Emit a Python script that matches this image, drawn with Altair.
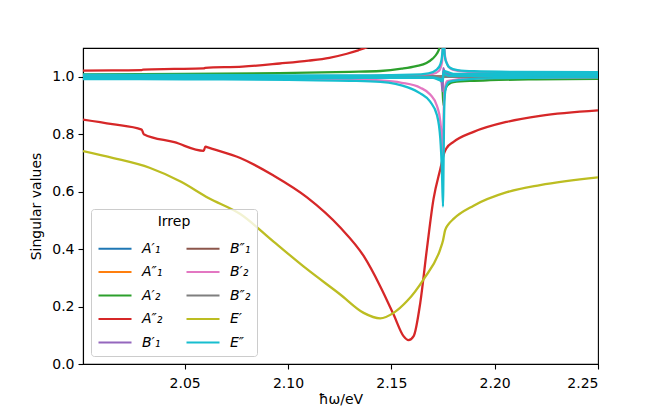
import altair as alt
import pandas as pd

irreps = ["A′₁", "A″₁", "A′₂", "A″₂", "B′₁", "B″₁", "B′₂", "B″₂", "E′", "E″"]
colors = ["#1f77b4", "#ff7f0e", "#2ca02c", "#d62728", "#9467bd",
          "#8c564b", "#e377c2", "#7f7f7f", "#bcbd22", "#17becf"]

x_ticks = [2.05, 2.10, 2.15, 2.20, 2.25]
y_ticks = [0.0, 0.2, 0.4, 0.6, 0.8, 1.0]

# channels that stay at ~1 (hidden under the E'' band)
x_flat = [2.0008, 2.10, 2.17, 2.175, 2.18, 2.25]
y_A1p = [1.000, 1.000, 1.000, 1.000, 1.000, 1.000]
y_A1pp = [1.000, 1.000, 1.000, 1.000, 1.000, 1.000]
y_B1pp = [1.000, 1.000, 1.000, 1.000, 1.000, 1.000]
y_B2pp = [1.000, 1.000, 1.000, 1.000, 1.000, 1.000]

# A'_2 (green)
x_g1 = [2.0008, 2.05, 2.096, 2.13, 2.1447, 2.155, 2.162, 2.167, 2.170, 2.172, 2.1733, 2.1742]
y_g1 = [1.008, 1.010, 1.0125, 1.017, 1.020, 1.028, 1.037, 1.048, 1.063, 1.080, 1.100, 1.130]
x_g2 = [2.0008, 2.10, 2.165, 2.172, 2.1746, 2.1752, 2.1757, 2.1765, 2.178, 2.18, 2.19, 2.1978, 2.22, 2.25]
y_g2 = [0.999, 0.999, 0.998, 0.995, 0.980, 0.900, 0.940, 0.963, 0.975, 0.981, 0.986, 0.988, 0.991, 0.993]

# A''_2 (red)
x_r1 = [2.0008, 2.015, 2.0292, 2.0300, 2.045, 2.0592, 2.0600, 2.078, 2.096, 2.11, 2.12, 2.1285, 2.134, 2.138, 2.143]
y_r1 = [1.021, 1.022, 1.023, 1.025, 1.027, 1.029, 1.031, 1.035, 1.046, 1.056, 1.066, 1.080, 1.092, 1.102, 1.120]
x_r2 = [2.0008, 2.015, 2.0292, 2.0302, 2.045, 2.0592, 2.0600, 2.0608, 2.0769, 2.093, 2.1092, 2.1253,
        2.1366, 2.1446, 2.1511, 2.1559, 2.1583, 2.1608, 2.1640, 2.1672, 2.1704, 2.1737, 2.1756, 2.1766,
        2.1801, 2.1898, 2.2059, 2.222, 2.25]
y_r2 = [0.851, 0.835, 0.816, 0.800, 0.772, 0.742, 0.757, 0.755, 0.717, 0.656, 0.580, 0.475,
        0.376, 0.271, 0.172, 0.097, 0.083, 0.097, 0.213, 0.400, 0.574, 0.679, 0.735, 0.750,
        0.773, 0.808, 0.843, 0.864, 0.883]

# B'_1 (purple)
x_p = [2.0008, 2.10, 2.17, 2.1742, 2.1748, 2.1751, 2.1756, 2.177, 2.19, 2.25]
y_p = [0.998, 0.998, 1.000, 0.990, 0.950, 1.030, 1.020, 1.010, 1.007, 1.006]

# B'_2 (pink)
x_pk1 = [2.0008, 2.10, 2.13, 2.1447, 2.155, 2.164, 2.1688, 2.1721, 2.1737, 2.1745, 2.1749, 2.1753,
         2.1757, 2.177, 2.19, 2.25]
y_pk1 = [0.995, 0.993, 0.990, 0.987, 0.979, 0.962, 0.938, 0.898, 0.845, 0.775, 0.720, 0.860,
         0.950, 0.985, 0.995, 0.998]
x_pk2 = [2.0008, 2.10, 2.16, 2.17, 2.173, 2.1745, 2.1752, 2.1757, 2.176, 2.177, 2.1785, 2.18, 2.19,
         2.22, 2.25]
y_pk2 = [1.002, 1.002, 1.004, 1.010, 1.020, 1.050, 1.150, 1.100, 1.070, 1.045, 1.029, 1.024, 1.016,
         1.013, 1.012]

# E' (olive)
x_o = [2.0008, 2.0155, 2.033, 2.048, 2.0615, 2.0769, 2.093, 2.1092, 2.1253, 2.1366, 2.1446, 2.1511,
       2.1576, 2.1656, 2.1737, 2.1750, 2.1760, 2.1775, 2.1801, 2.1898, 2.2059, 2.222, 2.25]
y_o = [0.741, 0.717, 0.683, 0.635, 0.578, 0.522, 0.426, 0.330, 0.242, 0.178, 0.159, 0.178,
       0.219, 0.295, 0.400, 0.430, 0.465, 0.485, 0.505, 0.551, 0.598, 0.623, 0.650]

# E'' (cyan)
x_c1 = [2.0008, 2.05, 2.10, 2.13, 2.1447, 2.152, 2.158, 2.164, 2.1688, 2.1721, 2.1737, 2.1745, 2.1750,
        2.1752, 2.1755, 2.1758, 2.1765, 2.178, 2.185, 2.20, 2.25]
y_c1 = [0.992, 0.991, 0.989, 0.986, 0.982, 0.975, 0.963, 0.942, 0.913, 0.866, 0.784, 0.668, 0.548,
        0.650, 0.850, 0.930, 0.965, 0.982, 0.990, 0.995, 0.998]
x_c2 = [2.0008, 2.05, 2.10, 2.14, 2.16, 2.168, 2.172, 2.1738, 2.1745, 2.175, 2.1753, 2.1756, 2.176,
        2.1768, 2.178, 2.182, 2.19, 2.21, 2.25]
y_c2 = [1.007, 1.006, 1.005, 1.005, 1.007, 1.012, 1.025, 1.045, 1.070, 1.120, 1.200, 1.100, 1.065,
        1.047, 1.033, 1.023, 1.019, 1.017, 1.016]
x_c3 = [2.0008, 2.10, 2.17, 2.1748, 2.1752, 2.178, 2.25]
y_c3 = [1.000, 0.999, 0.998, 0.990, 1.010, 1.003, 1.004]
x_c4 = [2.0008, 2.10, 2.17, 2.1749, 2.1753, 2.18, 2.25]
y_c4 = [0.996, 0.996, 0.996, 0.985, 1.020, 1.010, 1.009]

curves = [
    (irreps[0], "a1p", x_flat, y_A1p),
    (irreps[1], "a1pp", x_flat, y_A1pp),
    (irreps[2], "g1", x_g1, y_g1),
    (irreps[2], "g2", x_g2, y_g2),
    (irreps[3], "r1", x_r1, y_r1),
    (irreps[3], "r2", x_r2, y_r2),
    (irreps[4], "p1", x_p, y_p),
    (irreps[5], "b1pp", x_flat, y_B1pp),
    (irreps[6], "pk1", x_pk1, y_pk1),
    (irreps[6], "pk2", x_pk2, y_pk2),
    (irreps[7], "b2pp", x_flat, y_B2pp),
    (irreps[8], "o1", x_o, y_o),
    (irreps[9], "c1", x_c1, y_c1),
    (irreps[9], "c2", x_c2, y_c2),
    (irreps[9], "c3", x_c3, y_c3),
    (irreps[9], "c4", x_c4, y_c4),
]

rows = []
for irrep, cid, xs, ys in curves:
    for xv, yv in zip(xs, ys):
        rows.append({"irrep": irrep, "curve": cid, "x": xv, "y": yv})
df = pd.DataFrame(rows)

color_scale = alt.Scale(domain=irreps, range=colors)
legend = alt.Legend(
    title="Irrep", orient="bottom-left", columns=2, offset=8, padding=6,
    fillColor="rgba(255,255,255,0.8)", strokeColor="#cccccc", cornerRadius=3,
    symbolType="M-1,0H2.3", symbolSize=400, symbolStrokeWidth=2.2,
    labelFontSize=14, labelFontStyle="italic", labelFont="DejaVu Sans", labelColor="black",
    titleFontSize=14, titleFontWeight="normal", titleFont="DejaVu Sans", titleColor="black",
    titleAnchor="middle", rowPadding=4.5, columnPadding=19, labelOffset=22, titlePadding=8,
)

x_enc = alt.X("x:Q", scale=alt.Scale(domain=[2.0008, 2.25], nice=False, zero=False),
              axis=alt.Axis(values=x_ticks, format=".2f", title="ħω/eV",
                            labelPadding=7, titlePadding=2))
y_enc = alt.Y("y:Q", scale=alt.Scale(domain=[0, 1.1], nice=False, zero=False),
              axis=alt.Axis(values=y_ticks, format=".1f", title="Singular values",
                            labelPadding=4, titlePadding=8))

layers = []
for name in irreps:
    sub = df[df["irrep"] == name]
    layers.append(
        alt.Chart(sub).mark_line(clip=True, strokeWidth=2.3, interpolate="monotone").encode(
            x=x_enc, y=y_enc,
            color=alt.Color("irrep:N", scale=color_scale, legend=legend),
            detail="curve:N",
        )
    )

chart = alt.layer(*layers).properties(
    width=515, height=316,
    autosize=alt.AutoSizeParams(type="none"),
    padding={"left": 75, "top": 40, "right": 10, "bottom": 44},
    background="white",
).configure_axis(
    domainColor="black", tickColor="black", labelColor="black", titleColor="black",
    labelFont="DejaVu Sans", titleFont="DejaVu Sans", labelFontSize=14, titleFontSize=14,
    titleFontWeight="normal", grid=False, tickSize=5, domainWidth=1.1, tickWidth=1.1,
).configure_view(stroke="black", strokeWidth=1.1)

chart.save("out.html", embed_options={"renderer": "svg", "actions": False})
